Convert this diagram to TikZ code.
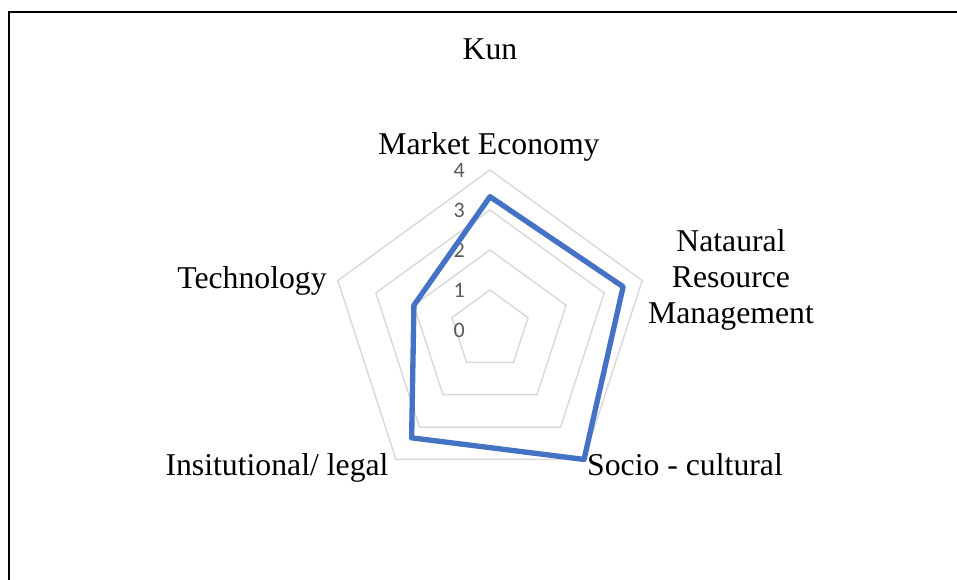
\documentclass[tikz,border=0pt]{standalone}
\usepackage{fontspec}
\setmainfont{Liberation Serif}
\newfontfamily\tickfont{Carlito}
\usepackage{tikz}
\definecolor{gridgray}{HTML}{D9D9D9}
\definecolor{tickgray}{HTML}{595959}
\definecolor{serieblue}{HTML}{4472C4}

\begin{document}
\begin{tikzpicture}[x=0.75pt,y=0.75pt,
		gridline/.style={draw=gridgray,line width=1.1pt},
		axislabel/.style={font=\fontsize{23.8}{27}\selectfont,inner sep=0pt,anchor=base},
		ticklabel/.style={font=\tickfont\fontsize{16.5}{19}\selectfont,text=tickgray,inner sep=0pt,anchor=east}]
				\useasboundingbox (-490,-250) rectangle (467,330);
				\draw [line width=1.5pt](-481,-250)--(-481,318)--(467,318);
				\node [axislabel] (title) at (0,270) {Kun};
				\draw [gridline](90:40)--(18:40)--(-54:40)--(-126:40)--(162:40)--cycle;
				\draw [gridline](90:80)--(18:80)--(-54:80)--(-126:80)--(162:80)--cycle;
				\draw [gridline](90:120)--(18:120)--(-54:120)--(-126:120)--(162:120)--cycle;
				\draw [gridline](90:160)--(18:160)--(-54:160)--(-126:160)--(162:160)--cycle;
				\node [ticklabel] (t0) at (-25,0) {0};
				\node [ticklabel] (t1) at (-25,40) {1};
				\node [ticklabel] (t2) at (-25,80) {2};
				\node [ticklabel] (t3) at (-25,120) {3};
				\node [ticklabel] (t4) at (-25,160) {4};
				\draw [serieblue,line width=4pt,line join=round](90:133.3)--(18:140)--(-54:160)--(-126:133.3)--(162:80)--cycle;
				\node [axislabel] (market) at (-1,175) {Market Economy};
				\node [axislabel,align=center] (natural) at (241,6) {Nataural\\Resource\\Management};
				\node [axislabel] (socio) at (195,-146) {Socio - cultural};
				\node [axislabel] (legal) at (-213,-146) {Insitutional/ legal};
				\node [axislabel] (tech) at (-238,41) {Technology};
			\end{tikzpicture}
\end{document}
